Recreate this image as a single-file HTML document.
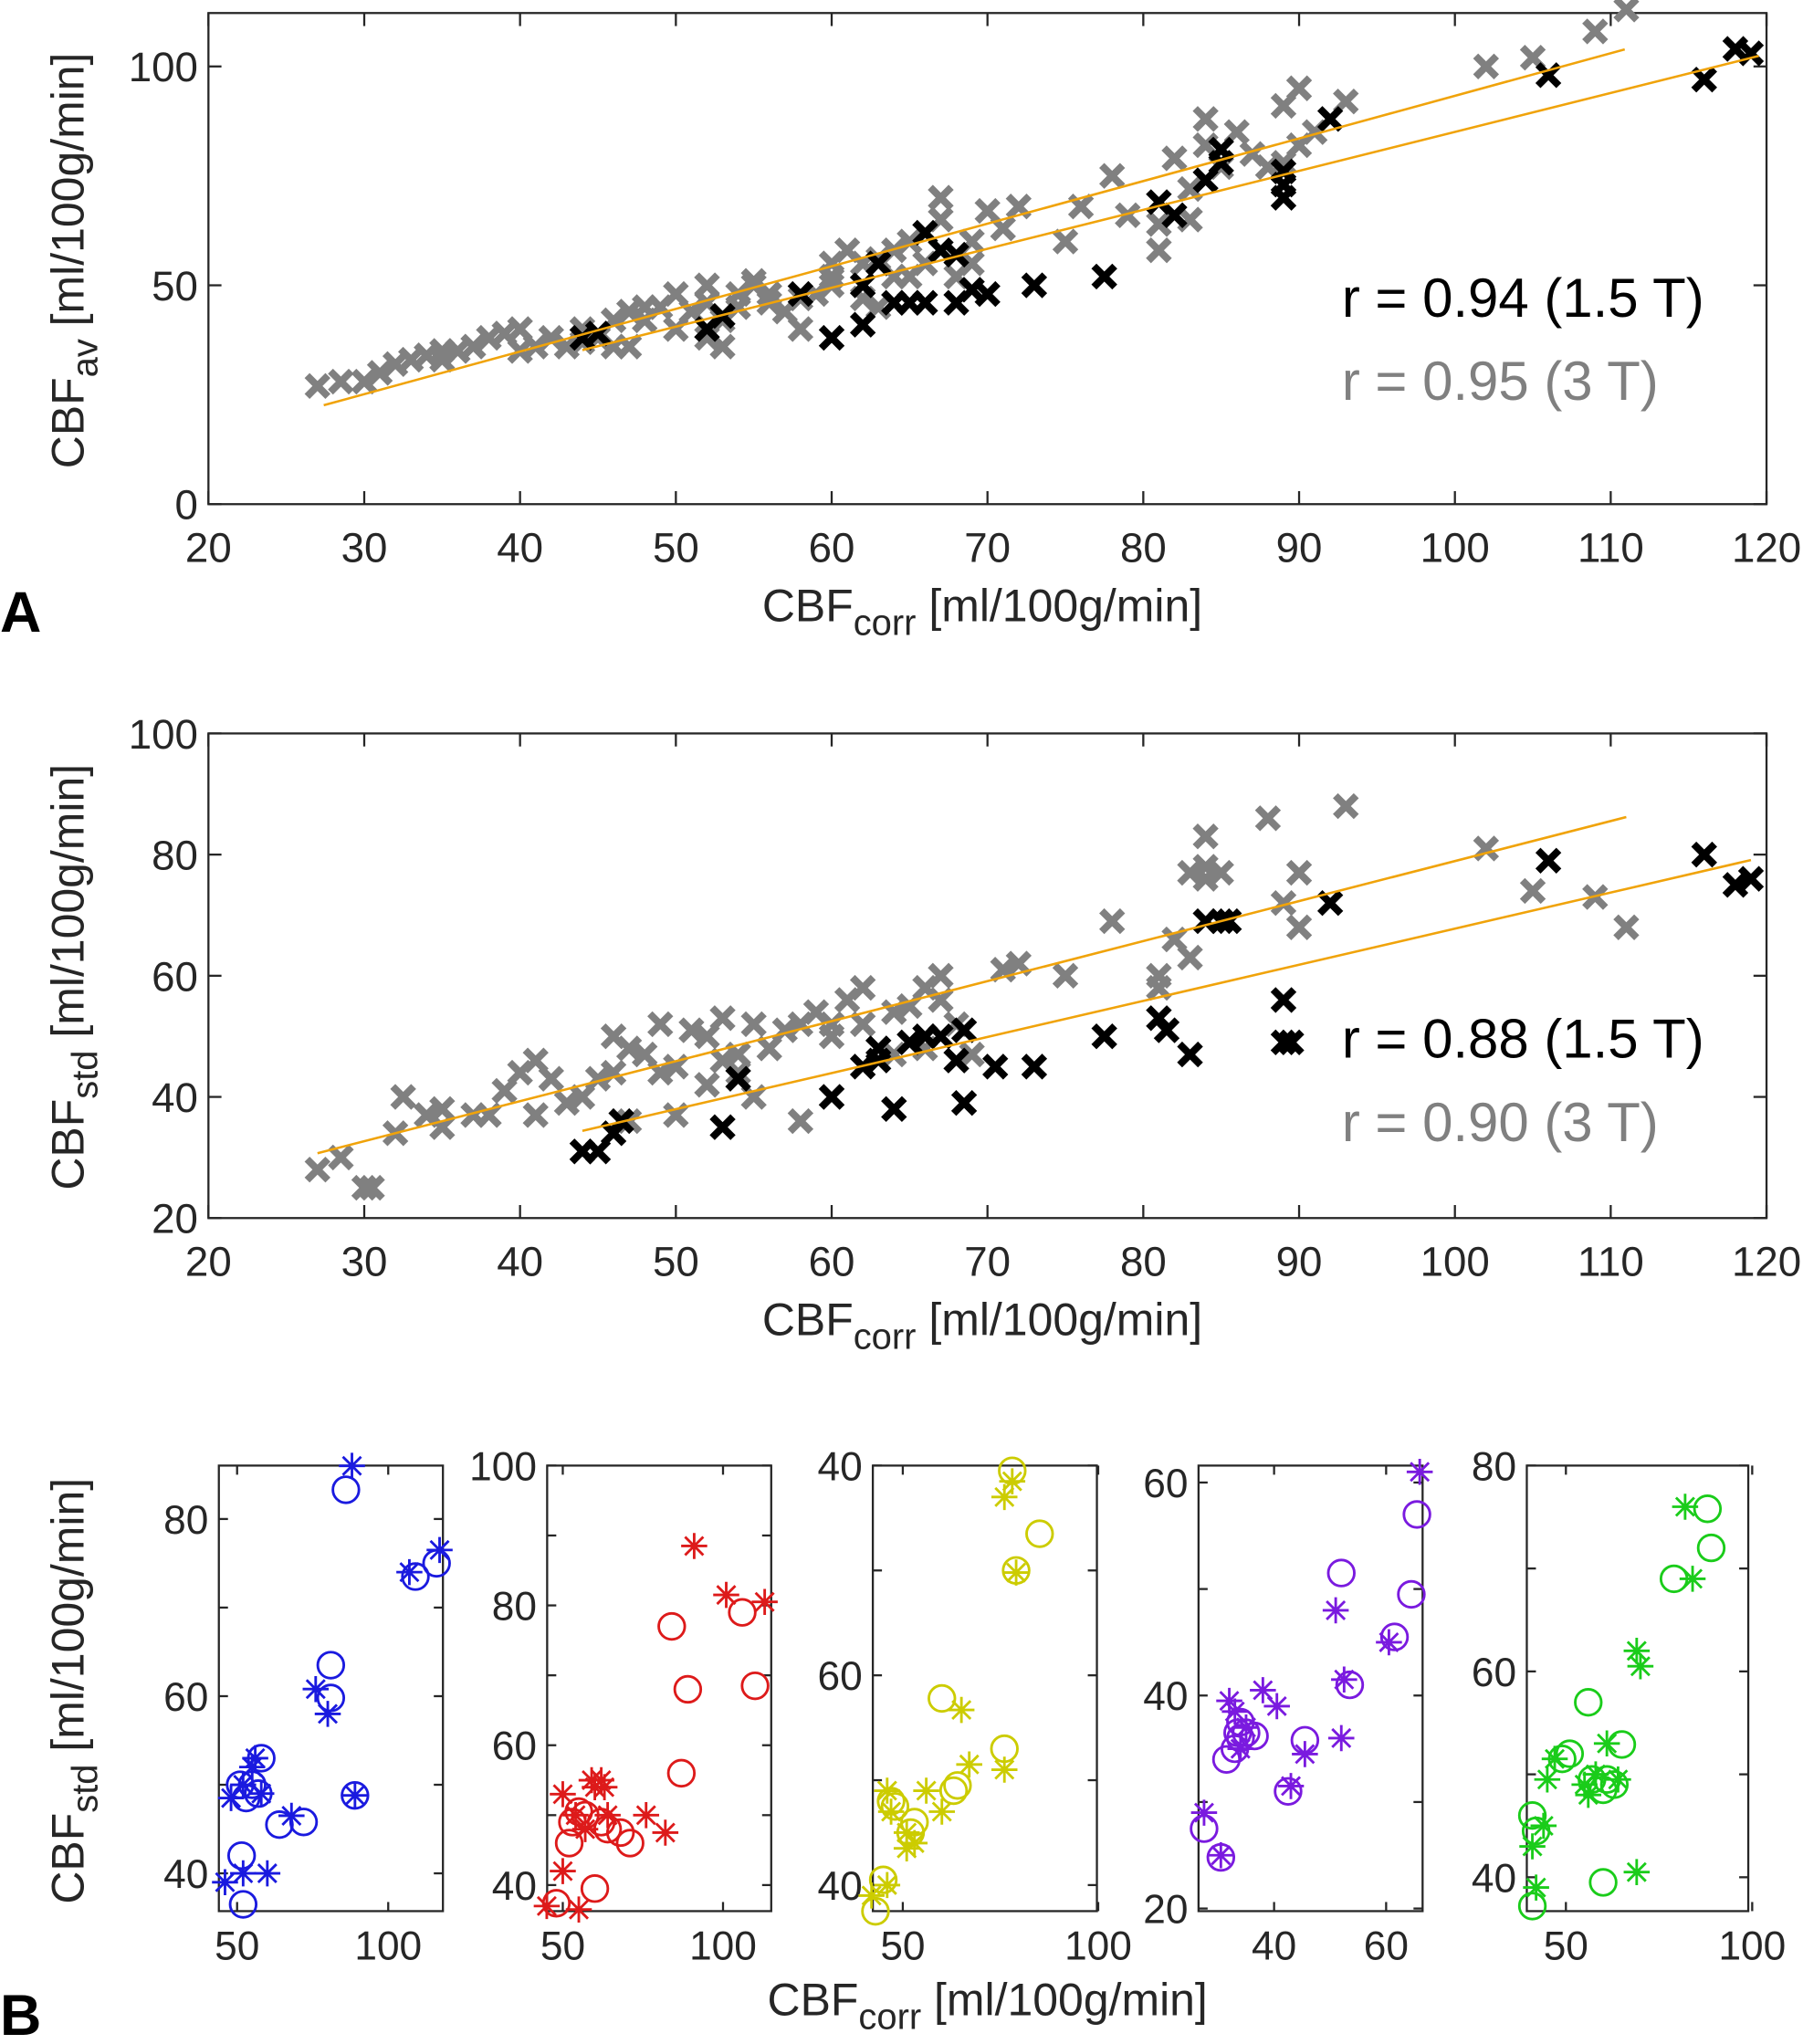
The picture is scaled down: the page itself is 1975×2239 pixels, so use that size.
<!DOCTYPE html>
<html><head><meta charset="utf-8"><style>
html,body{margin:0;padding:0;background:#fff;}
svg{display:block;}
text{font-family:"Liberation Sans",Arial,sans-serif;fill:#262626;}
</style></head><body>
<svg id="fig" width="1975" height="2239" viewBox="0 0 1384 1569" xmlns="http://www.w3.org/2000/svg"></svg>
<script>
// ---------- Data ----------
const aGrayX=[27,28.5,30,31,32,33,34,35,35,36,37,38,39,40,40,41,42,43,44,45,46,47,47,48,49,50,50,51,52,52,53,53,54,55,55,56,57,58,59,60,60,61,62,62,63,64,65,66,67,67,68,69,71,72,75,78,81,81,82,83,84,84,85,87,88,89,89,90,90,91,93,102,105,109,111,86,79,64,58,48,44,46,52,54,56,60,63,65,69,62,70,76,83];
const aGrayY=[27,28,28,30,32,33,34,35,33,35,36,38,39,40,35,36,38,36,37,38,42,44,36,42,45,48,40,44,46,50,36,42,48,50,51,46,44,47,48,52,55,58,55,50,56,58,60,55,65,70,52,55,63,68,60,75,58,64,79,72,88,82,77,80,77,78,91,95,82,85,92,100,102,108,113,85,66,52,40,45,40,36,38,45,48,50,45,52,60,47,67,68,65];
const aBlackX=[44,45,52,53,58,60,62,62,63,64,65,66,66,67,68,68,69,70,73,77.5,81,82,84,85,85,89,89,89,92,106,116,118,119];
const aBlackY=[38,39,40,43,48,38,41,50,55,46,46,46,62,58,46,57,49,48,50,52,69,66,74,78,81,70,73,76,88,98,97,104,103];
const aFitGray=[27.4,22.6,110.9,103.9];
const aFitBlack=[44,35.2,119.5,102.4];
const bGrayX=[27,28.5,30,30.5,32,32.5,34,35,35,37,38,39,40,41,41,42,43,44,45,46,46,47,47,48,49,49,50,50,51,52,52,53,53,54,55,55,56,57,58,58,59,60,60,61,62,62,63,64,65,66,67,67,68,69,71,72,75,78,81,81,82,83,83,84,84,85,88,89,90,90,93,102,105,109,111,84,60,64,54,66];
const bGrayY=[28,30,25,25,34,40,37,38,35,37,37,41,44,46,37,43,39,40,43,50,44,48,36,47,52,44,45,37,51,50,42,53,46,47,52,40,48,51,52,36,54,50,40,56,52,58,48,54,55,48,60,56,52,47,61,62,60,69,58,60,66,63,77,78,83,77,86,72,77,68,88,81,74,73,68,76,52,47,44,58];
const bBlackX=[44,45,46,46.5,53,54,60,62,63,63,64,65,66,67,68,68.5,68.5,70.5,73,77.5,81,81.5,83,84,85,85.5,89,89,89.5,92,106,116,118,119];
const bBlackY=[31,31,34,36,35,43,40,45,46,48,38,49,50,50,46,39,51,45,45,50,53,51,47,69,69,69,56,49,49,72,79,80,75,76];
const bFitGray=[27,30.7,111,86.2];
const bFitBlack=[44,34.4,119,79.1];
const s1ox=[51.5,52,51,53,55,58,57,64,72,81,81,89,86,109,116], s1oy=[42,36.5,50,48.5,50,53,49,45.5,45.8,63.5,59.8,48.8,83.3,73.5,75];
const s1sx=[46,48,52,52,55,56,58,60,68,76,80,89,88,107,117], s1sy=[39,48.5,40,50,52,53,49,40,46.5,60.8,58,48.8,86,74,76.5];
const s2ox=[48,52,53,55,57,60,62,64,68,71,84,89,87,106,110], s2oy=[37.4,46,49,50.5,50,39.5,49,48,47.5,46,77,68,56,79,68.5];
const s2sx=[45,50,50,54,55,57,59,60,62,63,64,76,82,91,101,113], s2sy=[37,42,53,50,36.5,48,55,54,55,54,50,50,47.5,88.5,81.5,80.5];
const s3ox=[43,45,47,48,53,52,60,63,64,76,78,79,85], s3oy=[37.5,40.5,48,47.5,46,45,57.8,49,49.5,53,79.5,70,73.5];
const s3sx=[42,46,46,47,51,51,53,56,60,65,67,76,76,78,79], s3sy=[39,40,49,47,43.5,45,44,49,47,56.7,51.5,51,77,78.5,69.8];
const s4ox=[27.5,30.5,31.5,33,34,34,35,36.5,42.5,45.5,52,53.5,61.5,64.5,65.5,33.5], s4oy=[27.5,24.8,34,35,36,37.5,36.5,36.2,31,35.8,51.5,41,45.5,49.5,57,36.5];
const s4sx=[27.5,30.5,32,33,34,35,38,40.5,43,45.5,51,52,52.5,60.5,66], s4sy=[29,25,39.5,38.5,35,37,40.5,39,31.5,34.5,48,36,41.5,45,61];
const s5ox=[41,41,42,56,49,51,57,60,61,65,63,60,79,89,88], s5oy=[37.2,46,44.5,57,51.5,52,49.5,48.5,49.5,52.9,49,39.5,69,72,75.8];
const s5sx=[41,42,44,45,47,55,56,58,61,64,69,70,69,82,84], s5sy=[43,39,45,49.5,51.5,49,48,50,53,49.5,62,60.5,40.5,76,69];
const xTicksMain=[20,30,40,50,60,70,80,90,100,110,120];
const yTicksA=[0,50,100];
const yTicksB=[20,40,60,80,100];

// ---------- Helpers ----------
const NS='http://www.w3.org/2000/svg';
const svg=document.getElementById('fig');
function mk(tag,attrs,parent){const e=document.createElementNS(NS,tag);for(const k in attrs)e.setAttribute(k,attrs[k]);(parent||svg).appendChild(e);return e;}
function scale(d0,d1,p0,p1){return v=>p0+(v-d0)*(p1-p0)/(d1-d0);}
const AX='#262626';

function axesBox(g,x0,y0,x1,y1,xs,ys,xt,yt,xl,yl,fs,tl,xoff){
  const r=mk('rect',{x:x0,y:y0,width:x1-x0,height:y1-y0,fill:'none',stroke:AX,'stroke-width':1.6},g);
  
  
  xt.forEach((v,i)=>{const p=xs(v);
    mk('line',{x1:p,y1:y1,x2:p,y2:y1-tl,stroke:AX,'stroke-width':1.6},g);
    mk('line',{x1:p,y1:y0,x2:p,y2:y0+tl,stroke:AX,'stroke-width':1.6},g);
    if(xl[i]!==''){const t=mk('text',{x:p,y:y1+fs*1.2+xoff,'font-size':fs,'text-anchor':'middle'},g);t.textContent=xl[i];
    
    }
  });
  yt.forEach((v,i)=>{const p=ys(v);
    mk('line',{x1:x0,y1:p,x2:x0+tl,y2:p,stroke:AX,'stroke-width':1.6},g);
    mk('line',{x1:x1,y1:p,x2:x1-tl,y2:p,stroke:AX,'stroke-width':1.6},g);
    if(yl[i]!==''){const t=mk('text',{x:x0-8,y:p+fs*0.36,'font-size':fs,'text-anchor':'end'},g);t.textContent=yl[i];
    
    }
  });
}
function xMark(g,x,y,c){
  const s=8;
  const p=mk('path',{d:`M${x-s},${y-s}L${x+s},${y+s}M${x-s},${y+s}L${x+s},${y-s}`,stroke:c,'stroke-width':5.5,fill:'none'},g);
  
  
}
function circ(g,x,y,c){
  const e=mk('circle',{cx:x,cy:y,r:10,fill:'none',stroke:c,'stroke-width':2},g);
  
  
}
function star(g,x,y,c){
  const s=10,d=7;
  const p=mk('path',{d:`M${x-s},${y}L${x+s},${y}M${x},${y-s}L${x},${y+s}M${x-d},${y-d}L${x+d},${y+d}M${x-d},${y+d}L${x+d},${y-d}`,stroke:c,'stroke-width':2,fill:'none'},g);
  
  
}
function fitLine(g,xs,ys,f){
  const l=mk('line',{x1:xs(f[0]),y1:ys(f[1]),x2:xs(f[2]),y2:ys(f[3]),stroke:'#f0a30a','stroke-width':1.8},g);
  
  
}
function label(g,x,y,main,sub,fs,rot,name){
  const t=mk('text',{x:x,y:y,'font-size':fs,'text-anchor':'middle',transform:rot?`rotate(-90 ${x} ${y})`:''},g);
  
  
  const a=mk('tspan',{},t);a.textContent='CBF';
  const b=mk('tspan',{dy:fs*0.3,'font-size':fs*0.8},t);b.textContent=sub;
  const c=mk('tspan',{dy:-fs*0.3},t);c.textContent=' '+main;
}

// ---------- Panel A top ----------
const gA=mk('g',{});


const axA=scale(20,120,160,1356), ayA=scale(0,100,387,51);
axesBox(gA,160,10,1356,387,axA,ayA,xTicksMain,yTicksA,xTicksMain.map(String),yTicksA.map(String),32,10,6);
aGrayX.forEach((v,i)=>xMark(gA,axA(v),ayA(aGrayY[i]),'#808080'));
aBlackX.forEach((v,i)=>xMark(gA,axA(v),ayA(aBlackY[i]),'#000'));
fitLine(gA,axA,ayA,aFitGray);fitLine(gA,axA,ayA,aFitBlack);
label(gA,754,477,'[ml/100g/min]','corr',35,false,'x-axis-title');
label(gA,64,200,'[ml/100g/min]','av',35,true,'y-axis-title');
let t;
t=mk('text',{x:1030,y:243,'font-size':42,style:'fill:#000'},gA);t.textContent='r = 0.94 (1.5 T)';


t=mk('text',{x:1030,y:307,'font-size':42,style:'fill:#808080'},gA);t.textContent='r = 0.95 (3 T)';


t=mk('text',{x:0,y:485,'font-size':44,'font-weight':'bold',style:'fill:#000'});t.textContent='A';



// ---------- Panel A bottom ----------
const gB=mk('g',{});


const axB=scale(20,120,160,1356), ayB=scale(20,100,935,563);
axesBox(gB,160,563,1356,935,axB,ayB,xTicksMain,yTicksB,xTicksMain.map(String),yTicksB.map(String),32,10,6);
bGrayX.forEach((v,i)=>xMark(gB,axB(v),ayB(bGrayY[i]),'#808080'));
bBlackX.forEach((v,i)=>xMark(gB,axB(v),ayB(bBlackY[i]),'#000'));
fitLine(gB,axB,ayB,bFitGray);fitLine(gB,axB,ayB,bFitBlack);
label(gB,754,1025,'[ml/100g/min]','corr',35,false,'x-axis-title');
label(gB,64,750,'[ml/100g/min]','std',35,true,'y-axis-title');
t=mk('text',{x:1030,y:812,'font-size':42,style:'fill:#000'},gB);t.textContent='r = 0.88 (1.5 T)';


t=mk('text',{x:1030,y:876,'font-size':42,style:'fill:#808080'},gB);t.textContent='r = 0.90 (3 T)';



// ---------- Panel B small multiples ----------
const subs=[
 {x0:168,x1:340,dx:[50,100],px:[182,298],dy:[80,40],py:[1166,1438],xt:[50,100],xl:['50','100'],yt:[40,50,60,70,80],yl:['40','','60','','80'],ox:s1ox,oy:s1oy,sx:s1sx,sy:s1sy,c:'#1a1adf'},
 {x0:420,x1:592,dx:[50,100],px:[432,555],dy:[100,40],py:[1125,1447],xt:[50,100],xl:['50','100'],yt:[40,50,60,70,80,90,100],yl:['40','','60','','80','','100'],ox:s2ox,oy:s2oy,sx:s2sx,sy:s2sy,c:'#dd1a1a'},
 {x0:670,x1:842,dx:[50,100],px:[693,843],dy:[80,40],py:[1125,1447],xt:[50,100],xl:['50','100'],yt:[40,50,60,70,80],yl:['40','','60','','40'],ox:s3ox,oy:s3oy,sx:s3sx,sy:s3sy,c:'#cccc00'},
 {x0:920,x1:1092,dx:[40,60],px:[978,1064],dy:[60,20],py:[1138,1465],xt:[40,60],xl:['40','60'],yt:[20,30,40,50,60],yl:['20','','40','','60'],ox:s4ox,oy:s4oy,sx:s4sx,sy:s4sy,c:'#7a1adf'},
 {x0:1172,x1:1342,dx:[50,100],px:[1202,1345],dy:[80,40],py:[1125,1441],xt:[50,100],xl:['50','100'],yt:[40,50,60,70,80],yl:['40','','60','','80'],ox:s5ox,oy:s5oy,sx:s5sx,sy:s5sy,c:'#1acc1a'}
];
subs.forEach((s,k)=>{
  const g=mk('g',{});
  
  
  const xs=scale(s.dx[0],s.dx[1],s.px[0],s.px[1]), ys=scale(s.dy[0],s.dy[1],s.py[0],s.py[1]);
  axesBox(g,s.x0,1125,s.x1,1467,xs,ys,s.xt,s.yt,s.xl,s.yl,31,7,0);
  s.ox.forEach((v,i)=>circ(g,xs(v),ys(s.oy[i]),s.c));
  s.sx.forEach((v,i)=>star(g,xs(v),ys(s.sy[i]),s.c));
});
label(svg,758,1547,'[ml/100g/min]','corr',35,false,'x-axis-title');
label(svg,64,1298,'[ml/100g/min]','std',35,true,'y-axis-title');
t=mk('text',{x:0,y:1562,'font-size':44,'font-weight':'bold',style:'fill:#000'});t.textContent='B';


</script>
</body></html>
